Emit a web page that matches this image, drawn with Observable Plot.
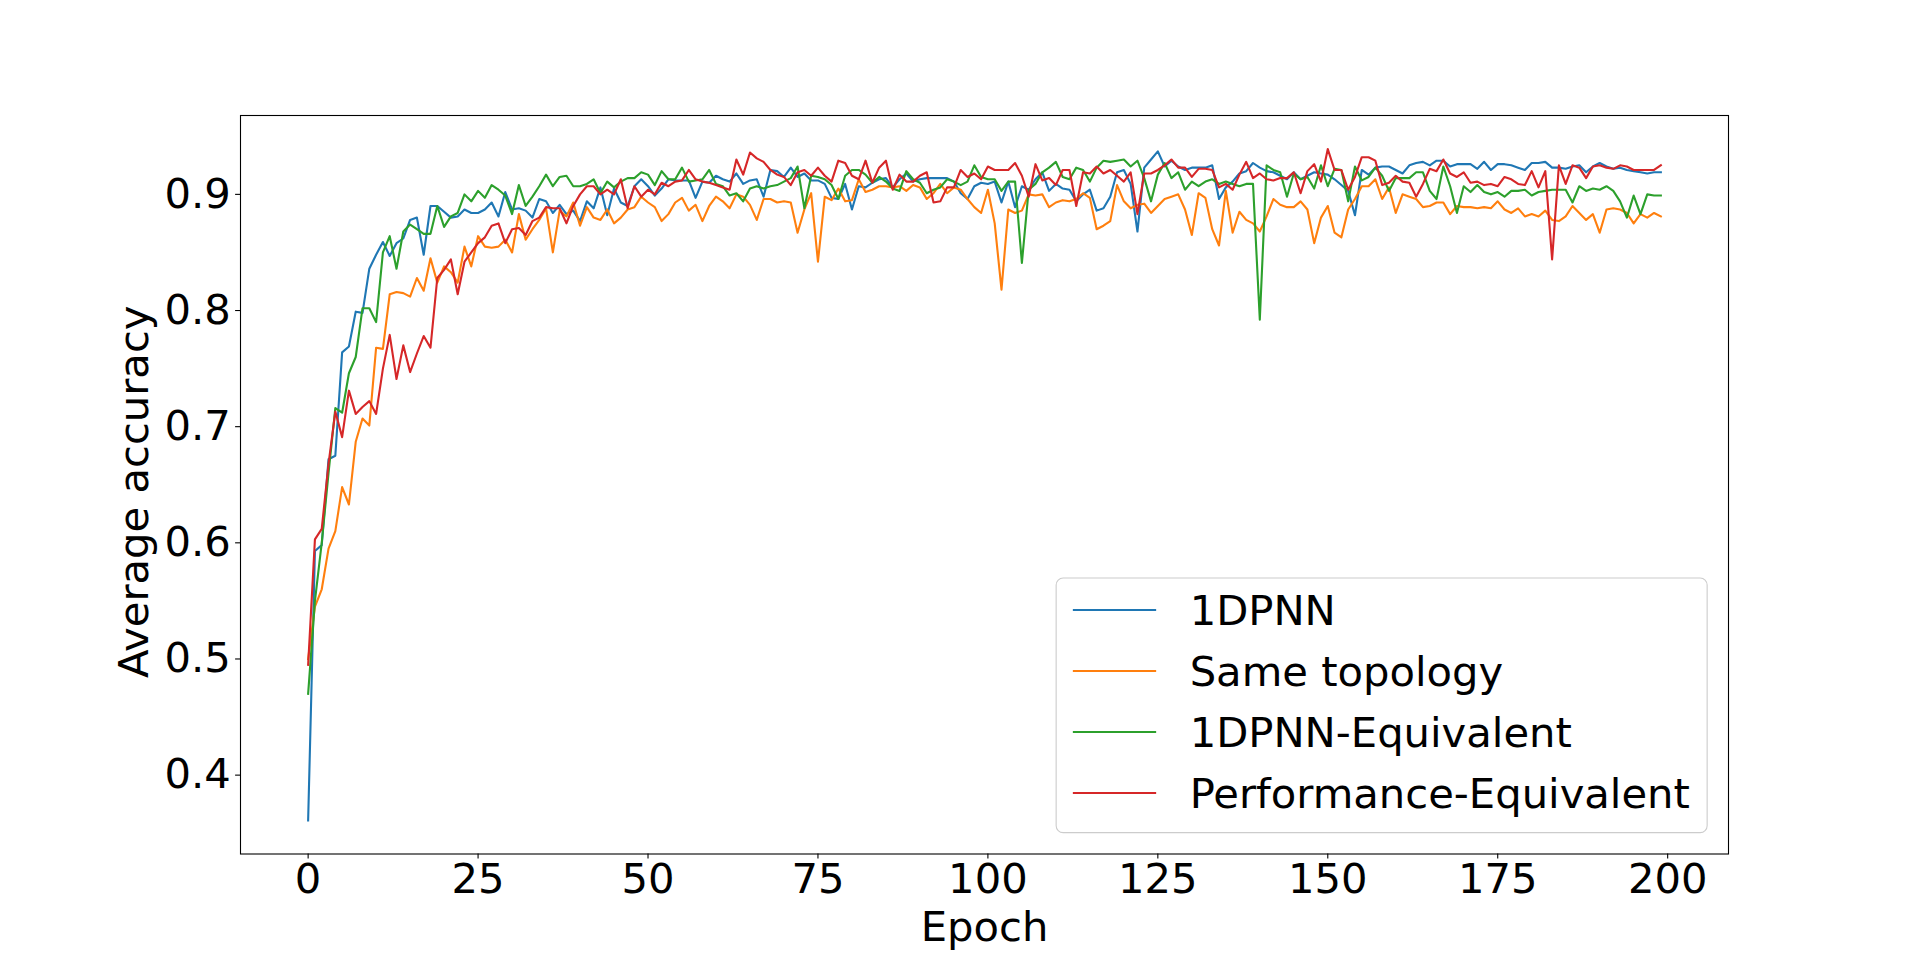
<!DOCTYPE html>
<html>
<head>
<meta charset="utf-8">
<script src="https://cdn.jsdelivr.net/npm/d3@7"></script>
<script src="https://cdn.jsdelivr.net/npm/@observablehq/plot@0.6"></script>
<style>
  html, body { margin: 0; padding: 0; background: white; }
  #chart { position: relative; width: 1920px; height: 959px; }
</style>
</head>
<body>
<div id="chart"></div>
<script>
// ---------- DATA ----------
const seriesNames = ["1DPNN", "Same topology", "1DPNN-Equivalent", "Performance-Equivalent"];
const seriesColors = ["#1f77b4", "#ff7f0e", "#2ca02c", "#d62728"];
const xTicks = [0, 25, 50, 75, 100, 125, 150, 175, 200];
const yTicks = [0.4, 0.5, 0.6, 0.7, 0.8, 0.9];
const xLabel = "Epoch";
const yLabel = "Average accuracy";

const acc1DPNN = [
0.361,0.593,0.598,0.672,0.675,0.764,0.769,0.799,0.798,0.836,
0.848,0.859,0.847,0.858,0.862,0.878,0.880,0.848,0.890,0.890,
0.885,0.880,0.881,0.887,0.884,0.884,0.887,0.893,0.881,0.902,
0.887,0.888,0.886,0.880,0.896,0.894,0.884,0.891,0.883,0.886,
0.877,0.894,0.888,0.906,0.882,0.905,0.893,0.890,0.907,0.913,
0.907,0.899,0.905,0.913,0.912,0.912,0.912,0.897,0.911,0.910,
0.916,0.913,0.911,0.918,0.909,0.912,0.913,0.898,0.921,0.920,
0.915,0.923,0.915,0.918,0.912,0.912,0.909,0.897,0.896,0.909,
0.887,0.907,0.906,0.910,0.913,0.914,0.906,0.913,0.918,0.911,
0.913,0.914,0.914,0.914,0.914,0.911,0.901,0.896,0.907,0.910,
0.909,0.911,0.893,0.911,0.889,0.907,0.904,0.913,0.919,0.903,
0.909,0.905,0.904,0.894,0.900,0.904,0.886,0.888,0.898,0.919,
0.921,0.909,0.868,0.923,0.930,0.937,0.924,0.929,0.924,0.921,
0.923,0.923,0.923,0.925,0.896,0.906,0.911,0.918,0.920,0.927,
0.923,0.920,0.919,0.916,0.913,0.919,0.913,0.916,0.919,0.918,
0.917,0.913,0.908,0.903,0.882,0.921,0.917,0.923,0.924,0.924,
0.921,0.918,0.925,0.927,0.928,0.925,0.929,0.929,0.924,0.926,
0.926,0.926,0.922,0.928,0.921,0.926,0.926,0.925,0.923,0.921,
0.927,0.927,0.928,0.923,0.923,0.922,0.924,0.925,0.919,0.924,
0.927,0.924,0.922,0.923,0.921,0.920,0.919,0.918,0.919,0.919];

const accSameTopology = [
0.500,0.545,0.560,0.595,0.610,0.648,0.633,0.687,0.707,0.701,
0.768,0.767,0.814,0.816,0.815,0.812,0.828,0.817,0.845,0.824,
0.838,0.833,0.824,0.855,0.838,0.864,0.855,0.854,0.855,0.861,
0.850,0.883,0.861,0.870,0.878,0.888,0.850,0.886,0.881,0.893,
0.873,0.889,0.880,0.878,0.887,0.875,0.880,0.887,0.889,0.898,
0.893,0.889,0.877,0.883,0.893,0.897,0.886,0.891,0.877,0.890,
0.898,0.894,0.888,0.900,0.898,0.891,0.878,0.896,0.896,0.893,
0.894,0.893,0.867,0.887,0.901,0.842,0.898,0.895,0.905,0.894,
0.895,0.913,0.902,0.904,0.907,0.907,0.906,0.907,0.903,0.908,
0.906,0.896,0.901,0.909,0.901,0.906,0.904,0.896,0.889,0.884,
0.904,0.875,0.818,0.887,0.884,0.886,0.900,0.899,0.900,0.889,
0.893,0.895,0.894,0.896,0.901,0.897,0.870,0.873,0.877,0.908,
0.894,0.888,0.891,0.892,0.884,0.890,0.896,0.898,0.900,0.887,
0.865,0.901,0.897,0.870,0.856,0.903,0.867,0.885,0.878,0.875,
0.868,0.881,0.896,0.891,0.889,0.889,0.894,0.887,0.858,0.880,
0.890,0.867,0.863,0.887,0.896,0.907,0.907,0.913,0.896,0.906,
0.884,0.900,0.898,0.896,0.889,0.890,0.893,0.893,0.883,0.890,
0.889,0.889,0.888,0.889,0.888,0.894,0.887,0.884,0.888,0.881,
0.883,0.881,0.886,0.878,0.877,0.881,0.890,0.884,0.878,0.883,
0.867,0.887,0.888,0.887,0.884,0.875,0.883,0.880,0.884,0.881];

const acc1DPNNEquivalent = [
0.470,0.550,0.600,0.660,0.716,0.712,0.746,0.760,0.802,0.802,
0.790,0.850,0.864,0.836,0.868,0.874,0.870,0.866,0.866,0.890,
0.872,0.881,0.884,0.900,0.894,0.903,0.897,0.908,0.904,0.899,
0.883,0.908,0.890,0.898,0.907,0.917,0.907,0.915,0.916,0.907,
0.907,0.909,0.913,0.901,0.911,0.906,0.911,0.914,0.914,0.919,
0.917,0.908,0.920,0.913,0.913,0.923,0.911,0.912,0.913,0.921,
0.909,0.907,0.899,0.901,0.894,0.905,0.907,0.905,0.907,0.908,
0.911,0.914,0.924,0.888,0.916,0.915,0.913,0.908,0.896,0.916,
0.921,0.921,0.917,0.910,0.915,0.911,0.905,0.903,0.920,0.913,
0.910,0.901,0.904,0.906,0.913,0.911,0.908,0.911,0.925,0.915,
0.913,0.913,0.903,0.911,0.911,0.841,0.904,0.909,0.919,0.923,
0.928,0.915,0.913,0.923,0.921,0.911,0.923,0.929,0.928,0.929,
0.930,0.924,0.929,0.914,0.894,0.917,0.927,0.914,0.919,0.904,
0.911,0.907,0.911,0.913,0.909,0.911,0.909,0.907,0.909,0.909,
0.792,0.925,0.921,0.919,0.898,0.918,0.913,0.915,0.905,0.925,
0.907,0.922,0.921,0.894,0.924,0.912,0.915,0.923,0.916,0.903,
0.914,0.914,0.914,0.919,0.919,0.903,0.896,0.924,0.907,0.884,
0.907,0.902,0.908,0.902,0.900,0.902,0.898,0.903,0.903,0.904,
0.899,0.902,0.903,0.904,0.904,0.904,0.893,0.907,0.903,0.905,
0.904,0.907,0.903,0.894,0.880,0.899,0.883,0.900,0.899,0.899];

const accPerformanceEquivalent = [
0.495,0.603,0.612,0.668,0.713,0.691,0.731,0.711,0.717,0.722,
0.711,0.750,0.779,0.741,0.770,0.747,0.763,0.778,0.768,0.828,
0.835,0.844,0.814,0.842,0.850,0.858,0.863,0.873,0.875,0.858,
0.870,0.871,0.865,0.877,0.880,0.889,0.888,0.888,0.875,0.890,
0.900,0.907,0.907,0.900,0.904,0.900,0.913,0.888,0.907,0.898,
0.904,0.900,0.910,0.907,0.911,0.912,0.921,0.913,0.911,0.910,
0.908,0.906,0.904,0.930,0.917,0.936,0.931,0.928,0.921,0.917,
0.915,0.908,0.919,0.921,0.916,0.923,0.916,0.911,0.929,0.927,
0.916,0.913,0.929,0.910,0.923,0.929,0.904,0.917,0.911,0.911,
0.916,0.919,0.893,0.894,0.906,0.906,0.921,0.915,0.918,0.913,
0.924,0.921,0.921,0.921,0.927,0.916,0.898,0.926,0.912,0.914,
0.908,0.921,0.921,0.890,0.919,0.918,0.924,0.918,0.921,0.916,
0.911,0.919,0.883,0.918,0.918,0.921,0.925,0.930,0.923,0.923,
0.915,0.922,0.922,0.921,0.906,0.909,0.904,0.917,0.928,0.914,
0.918,0.913,0.912,0.914,0.914,0.919,0.901,0.920,0.926,0.911,
0.939,0.921,0.921,0.904,0.915,0.932,0.932,0.929,0.908,0.910,
0.916,0.911,0.910,0.898,0.909,0.922,0.920,0.930,0.918,0.915,
0.919,0.910,0.911,0.908,0.909,0.907,0.915,0.913,0.909,0.908,
0.920,0.906,0.920,0.844,0.925,0.909,0.925,0.923,0.914,0.924,
0.925,0.923,0.922,0.925,0.924,0.921,0.921,0.921,0.921,0.925];

const seriesValues = [acc1DPNN, accSameTopology, acc1DPNNEquivalent, accPerformanceEquivalent];

// ---------- BUILD TABLE ----------
const rows = [];
seriesNames.forEach((name, si) => {
  seriesValues[si].forEach((v, i) => rows.push({series: name, epoch: i, acc: v}));
});

// matplotlib-like 5% margins
const xExt = d3.extent(rows, d => d.epoch);
const yExt = d3.extent(rows, d => d.acc);
const xPad = (xExt[1] - xExt[0]) * 0.05;
const yPad = (yExt[1] - yExt[0]) * 0.05;

const W = 1920, H = 959;
const mL = 240, mR = 192, mT = 115, mB = 105.5;
const FS = 41.7;
const tick = 4.9;

const chart = Plot.plot({
  width: W, height: H,
  marginLeft: mL, marginRight: mR, marginTop: mT, marginBottom: mB,
  style: {fontFamily: "'DejaVu Sans', sans-serif", fontSize: FS + "px", background: "white", color: "black"},
  x: {domain: [xExt[0] - xPad, xExt[1] + xPad]},
  y: {domain: [yExt[0] - yPad, yExt[1] + yPad]},
  color: {domain: seriesNames, range: seriesColors},
  marks: [
    Plot.axisX({ticks: xTicks, tickSize: tick, tickPadding: tick, tickFormat: d => String(d),
                label: null, fontSize: FS, strokeWidth: 1.1}),
    Plot.axisY({ticks: yTicks, tickSize: tick, tickPadding: tick, tickFormat: d3.format(".1f"),
                label: null, fontSize: FS, strokeWidth: 1.1}),
    Plot.line(rows, {x: "epoch", y: "acc", z: "series", stroke: "series", strokeWidth: 2.1,
                     strokeLinejoin: "round", strokeLinecap: "square"}),
    Plot.frame({stroke: "black", strokeWidth: 1.1}),
    Plot.text([xLabel], {frameAnchor: "bottom", dy: 74, fontSize: FS, lineAnchor: "middle",
                         textAnchor: "middle", fill: "black"}),
    Plot.text([yLabel], {frameAnchor: "left", dx: -106, dy: 7, rotate: -90, fontSize: FS, lineAnchor: "middle",
                         textAnchor: "middle", fill: "black"})
  ]
});

document.getElementById("chart").appendChild(chart);

// ---------- LEGEND (matplotlib style, lower right) ----------
const svg = d3.select(chart);
const pad = 0.5 * FS;               // borderaxespad
const boxRight = W - mR - pad;
const boxBottom = H - mB - pad;
const rowH = 61;
const boxW = 651, boxH = 254.6;
const boxX = boxRight - boxW, boxY = boxBottom - boxH;
const lg = svg.append("g").attr("font-family", "'DejaVu Sans', sans-serif")
  .attr("font-size", FS).attr("text-anchor", "start");
lg.append("rect")
  .attr("x", boxX).attr("y", boxY).attr("width", boxW).attr("height", boxH)
  .attr("rx", 7).attr("ry", 7)
  .attr("fill", "white").attr("fill-opacity", 0.8)
  .attr("stroke", "#cccccc").attr("stroke-width", 1.1);
seriesNames.forEach((name, i) => {
  const cy = boxY + 32 + i * rowH;
  lg.append("line")
    .attr("x1", boxX + 16.7).attr("x2", boxX + 100)
    .attr("y1", cy).attr("y2", cy)
    .attr("stroke", seriesColors[i]).attr("stroke-width", 2.1);
  lg.append("text")
    .attr("x", boxX + 133.5).attr("y", cy).attr("dy", "0.35em")
    .attr("text-anchor", "start")
    .attr("fill", "black").text(name);
});
</script>
</body>
</html>
